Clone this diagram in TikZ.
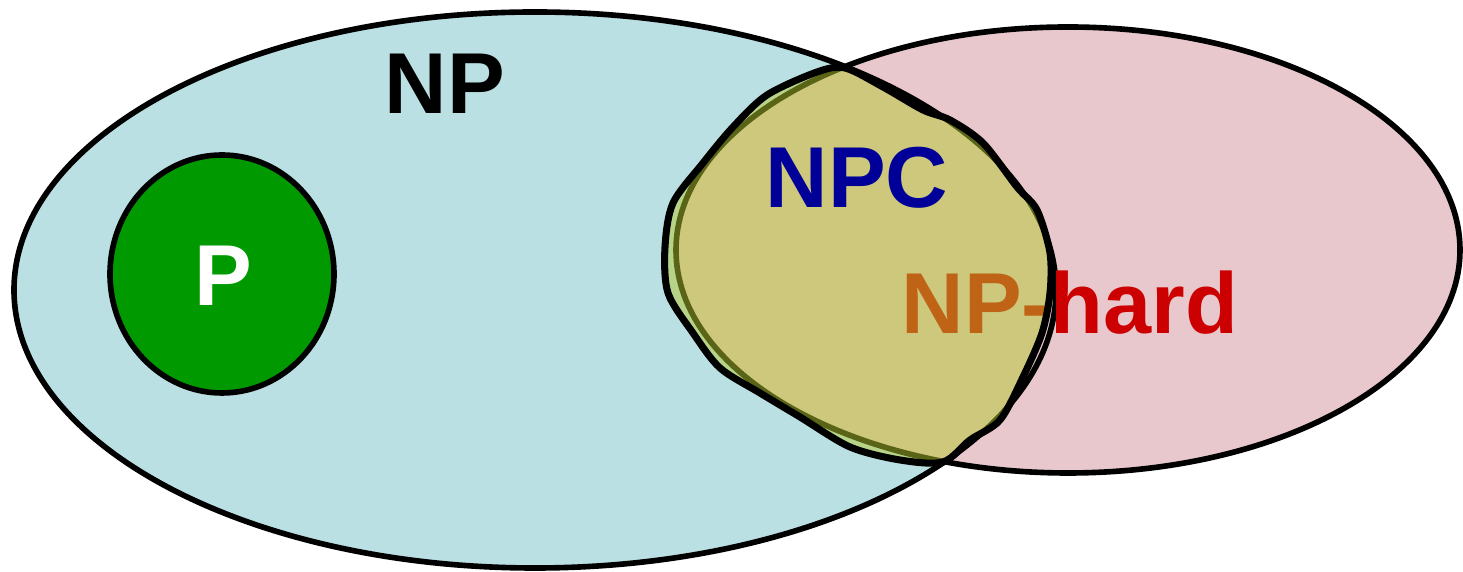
\documentclass[tikz,border=0pt]{standalone}
\usepackage{tikz}
\usepackage{fontspec}
\setmainfont{Liberation Sans}
\usepackage{xcolor}

\definecolor{npblue}{RGB}{187,224,227}
\definecolor{pgreen}{RGB}{0,153,0}
\definecolor{hardpink}{RGB}{232,200,204}
\definecolor{hardred}{RGB}{204,0,0}
\definecolor{npcfill}{RGB}{180,200,45}
\definecolor{npcblue}{RGB}{0,0,153}

\tikzset{
  setlabel/.style={inner sep=0pt, font=\fontsize{24.6}{28}\selectfont\bfseries},
  setline/.style={line width=1.6pt}
}

\begin{document}
\begin{tikzpicture}
            \useasboundingbox (0,0) rectangle (14.63,5.72);

            % fills first, outlines after
            \fill[npblue] (5.35,2.82) ellipse (5.21 and 2.78);
            \fill[hardpink] (10.68,3.22) ellipse (3.92 and 2.23);
            \draw[setline] (5.35,2.82) ellipse (5.21 and 2.78);
            \draw[setline] (10.68,3.22) ellipse (3.92 and 2.23);

            \draw[setline, fill=pgreen] (2.22,2.98) ellipse (1.12 and 1.19);

            \node[setlabel] (np) at (4.45,4.88) {NP};
            \node[setlabel, text=white] (p) at (2.23,2.96) {P};
            \node[setlabel, text=hardred] (nphard) at (10.70,2.69) {NP-hard};

            % hand drawn NPC blob
            \draw[line width=2pt, fill=npcfill, fill opacity=0.5] plot[smooth cycle, tension=0.5] coordinates {
                (8.45,5.04) (8.83,4.85) (9.23,4.62) (9.50,4.52) (9.83,4.29) (10.17,3.85)
                (10.37,3.62) (10.50,3.19) (10.50,2.79) (10.42,2.39) (10.23,1.95) (10.00,1.52)
                (9.70,1.32) (9.43,1.10) (9.00,1.12) (8.50,1.25) (8.00,1.55) (7.60,1.79)
                (7.20,2.04) (6.93,2.39) (6.68,2.79) (6.65,3.25) (6.73,3.69) (7.03,4.09)
                (7.33,4.45) (7.67,4.77) (8.17,5.00)};

            \node[setlabel, text=npcblue] (npc) at (8.57,3.94) {NPC};

        \end{tikzpicture}
\end{document}
